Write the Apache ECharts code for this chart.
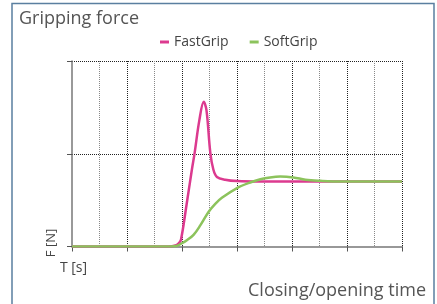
<!DOCTYPE html>
<html>
<head>
<meta charset="utf-8">
<script src="https://cdn.jsdelivr.net/npm/echarts@6/dist/echarts.min.js"></script>
<style>
  html, body { margin: 0; padding: 0; background: #fff; }
  #chart { width: 437px; height: 304px; }
</style>
</head>
<body>
<div id="chart"></div>
<script>
// series names
const seriesNames = ['FastGrip', 'SoftGrip'];

// [time, force] (axis has no numbers, 0..12 x 0..2)
const fastGrip = [
  [0, 0], [3.5, 0], [3.76, 0.01], [3.87, 0.03], [3.96, 0.07], [4.16, 0.44],
  [4.36, 0.83], [4.46, 1.01], [4.63, 1.36], [4.79, 1.56], [4.89, 1.47],
  [5.03, 1.01], [5.14, 0.83], [5.27, 0.75], [5.57, 0.72], [6.0, 0.705],
  [6.85, 0.70], [12, 0.70]
];
const softGrip = [
  [0, 0], [3.57, 0], [3.79, 0.005], [4.0, 0.035], [4.19, 0.07], [4.42, 0.125],
  [4.67, 0.23], [4.97, 0.375], [5.21, 0.46], [5.45, 0.525], [6.0, 0.63],
  [6.48, 0.69], [6.85, 0.725], [7.2, 0.745], [7.57, 0.755], [8.05, 0.745],
  [8.49, 0.72], [9.03, 0.708], [9.76, 0.70], [12, 0.70]
];

const FONT = '"Open Sans", sans-serif';
const chart = echarts.init(document.getElementById('chart'), null, { renderer: 'canvas' });

chart.setOption({
  backgroundColor: '#fff',
  animation: false,
  color: ['#dc3a8f', '#8cc35c'],
  title: {
    text: 'Gripping force',
    left: 19,
    top: 10,
    padding: 0,
    textStyle: { fontFamily: FONT, fontSize: 18, fontWeight: 'normal', color: '#555' }
  },
  legend: {
    left: 160,
    top: 35,
    padding: 0,
    icon: 'rect',
    itemWidth: 9,
    itemHeight: 3,
    itemGap: 21,
    data: seriesNames,
    textStyle: { fontFamily: FONT, fontSize: 14, color: '#444' }
  },
  grid: { left: 72, right: 35, top: 61, bottom: 57.5 },
  xAxis: {
    type: 'value',
    min: 0,
    max: 12,
    interval: 2,
    axisLabel: { show: false },
    axisLine: { lineStyle: { color: '#777', width: 1.5 } },
    axisTick: { show: true, length: 5, lineStyle: { color: '#555' } },
    splitLine: { show: true, showMinLine: false, lineStyle: { type: 'dotted', color: '#222', width: 1 } },
    minorTick: { show: false, splitNumber: 2 },
    minorSplitLine: { show: true, lineStyle: { type: 'dotted', color: '#888', width: 1 } }
  },
  yAxis: {
    type: 'value',
    min: 0,
    max: 2,
    interval: 1,
    axisLabel: { show: false },
    axisLine: { show: true, lineStyle: { color: '#777', width: 1.5 } },
    axisTick: { show: true, length: 5, lineStyle: { color: '#555' } },
    splitLine: { show: true, showMinLine: false, lineStyle: { type: 'dotted', color: '#222', width: 1 } }
  },
  graphic: [
    {
      type: 'rect',
      shape: { x: 12, y: 3.5, width: 422, height: 320 },
      style: { fill: 'none', stroke: '#5a7fa0', lineWidth: 1.5 },
      silent: true
    },
    {
      type: 'text', x: 51, y: 243, rotation: Math.PI / 2,
      style: { text: 'F [N]', font: '13px ' + FONT, fill: '#444', textAlign: 'center', textVerticalAlign: 'middle' }
    },
    {
      type: 'text', x: 73.5, y: 268,
      style: { text: 'T [s]', font: '14px ' + FONT, fill: '#444', textAlign: 'center', textVerticalAlign: 'middle' }
    },
    {
      type: 'text', x: 426, y: 291,
      style: { text: 'Closing/opening time', font: '18px ' + FONT, fill: '#555', textAlign: 'right', textVerticalAlign: 'middle' }
    }
  ],
  series: [
    {
      name: seriesNames[0], type: 'line', data: fastGrip, showSymbol: false,
      smooth: 0.35, lineStyle: { width: 2.5 }
    },
    {
      name: seriesNames[1], type: 'line', data: softGrip, showSymbol: false,
      smooth: 0.35, lineStyle: { width: 2.5 }
    }
  ]
});
</script>
</body>
</html>
